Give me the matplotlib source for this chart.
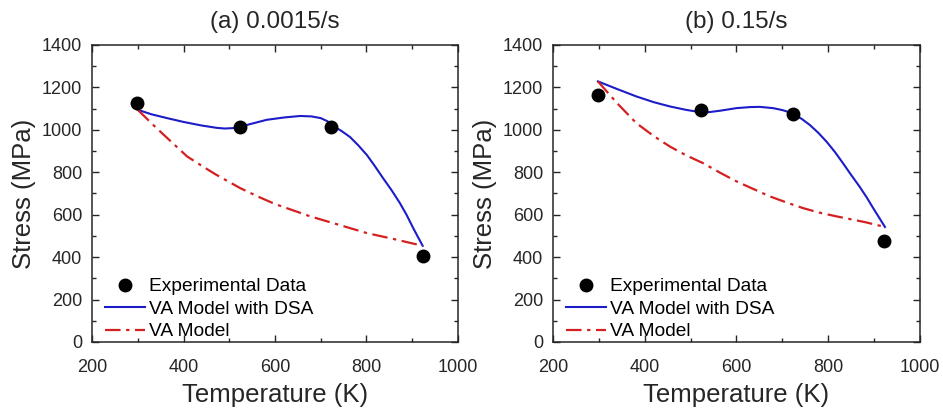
import matplotlib
matplotlib.use("Agg")
from matplotlib import pyplot as plt
from matplotlib.ticker import MultipleLocator

plt.rcParams["font.family"] = ["Liberation Sans", "DejaVu Sans"]

INK = "#262626"
BLUE = "#1c1cc8"
RED = "#d42020"

TITLES = ["(a) 0.0015/s", "(b) 0.15/s"]

# experimental points
exp_T = [298, 523, 723, 923]
exp_a = [1128, 1015, 1013, 405]
exp_b = [1163, 1091, 1075, 474]

# VA model with DSA
dsa_T_a = [300, 330, 364, 400, 440, 473, 490, 510, 530, 555, 582, 620, 655, 680, 700,
           715, 727, 745, 764, 782, 801, 818, 836, 855, 873, 888, 901, 912, 923]
dsa_a = [1094, 1073, 1055, 1037, 1020, 1009, 1006, 1008, 1018, 1032, 1047, 1058, 1065,
         1063, 1055, 1040, 1018, 995, 966, 927, 881, 830, 773, 715, 655, 598, 542, 497,
         453]

dsa_T_b = [298, 340, 382, 420, 455, 490, 515, 540, 565, 600, 630, 651, 680, 700, 712,
           723, 742, 760, 779, 797, 815, 832, 850, 869, 884, 898, 911, 924]
dsa_b = [1228, 1192, 1157, 1130, 1110, 1094, 1085, 1083, 1090, 1102, 1107, 1108, 1102,
         1093, 1085, 1075, 1052, 1023, 985, 943, 895, 844, 788, 731, 682, 632, 587, 542]

# VA model (no DSA)
va_T_a = [300, 340, 375, 408, 440, 470, 524, 560, 600, 640, 677, 740, 801, 860, 923]
va_a = [1094, 1010, 940, 874, 830, 790, 725, 688, 650, 620, 592, 552, 513, 485, 453]

va_T_b = [298, 340, 382, 420, 455, 490, 527, 565, 600, 640, 673, 710, 745, 780, 818,
          880, 924]
va_b = [1228, 1125, 1031, 970, 921, 880, 843, 797, 757, 718, 686, 657, 631, 610, 592,
        565, 542]


def panel(ax, title, exp_y, dsa_T, dsa_y, va_T, va_y):
    ax.plot(exp_T, exp_y, "o", color="black", markersize=9, label="Experimental Data",
            zorder=4, linestyle="none")
    ax.plot(dsa_T, dsa_y, "-", color=BLUE, linewidth=1.5, label="VA Model with DSA")
    ax.plot(va_T, va_y, color=RED, linewidth=1.6, dashes=(7, 2.5, 1.5, 2.5),
            label="VA Model")
    ax.set_xlim(200, 1000)
    ax.set_ylim(0, 1400)
    ax.xaxis.set_major_locator(MultipleLocator(200))
    ax.xaxis.set_minor_locator(MultipleLocator(100))
    ax.yaxis.set_major_locator(MultipleLocator(200))
    ax.yaxis.set_minor_locator(MultipleLocator(100))
    ax.tick_params(which="both", direction="in", top=True, right=True, colors=INK,
                   labelsize=13, width=1)
    ax.tick_params(which="major", length=5)
    ax.tick_params(which="minor", length=3)
    ax.tick_params(axis="x", pad=12)
    ax.tick_params(axis="y", pad=7)
    for sp in ax.spines.values():
        sp.set_color(INK)
        sp.set_linewidth(1.1)
    ax.set_xlabel("Temperature (K)", fontsize=18.5, color=INK, labelpad=5)
    ax.set_ylabel("Stress (MPa)", fontsize=18.5, color=INK, labelpad=4)
    ax.set_title(title, fontsize=17.5, color=INK, pad=12)
    ax.legend(loc="lower left", frameon=False, fontsize=13.8, handlelength=2.1,
              handletextpad=0.2, labelspacing=0.26, borderaxespad=0.0,
              bbox_to_anchor=(0.015, -0.02))


fig = plt.figure(figsize=(9.43, 4.12), dpi=100)
ax1 = fig.add_axes([0.0976, 0.170, 0.388, 0.721])
ax2 = fig.add_axes([0.5864, 0.170, 0.389, 0.721])
panel(ax1, TITLES[0], exp_a, dsa_T_a, dsa_a, va_T_a, va_a)
panel(ax2, TITLES[1], exp_b, dsa_T_b, dsa_b, va_T_b, va_b)

fig.savefig("out.png", dpi=100)
